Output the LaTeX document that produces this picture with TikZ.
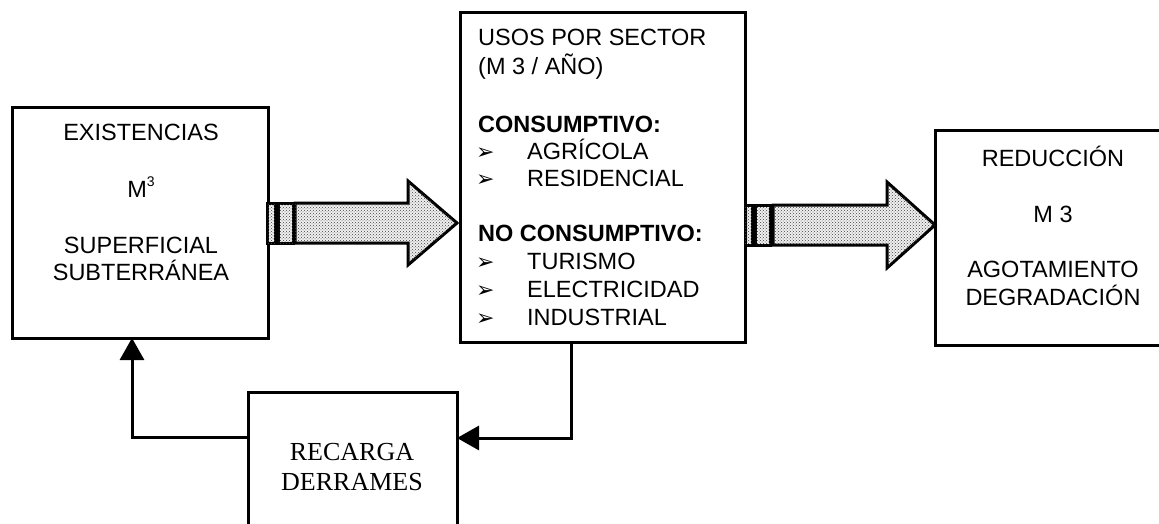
\documentclass[tikz,border=0pt]{standalone}
\usepackage{fontspec}
\setmainfont{Liberation Sans}
\newfontfamily\serifrm{Liberation Serif}
\newfontfamily\dvsans{DejaVu Sans}
\usetikzlibrary{arrows.meta,patterns}
\tikzset{
  box/.style={draw, line width=3pt, inner sep=0pt, outer sep=0pt},
  txt/.style={inner sep=0pt, font=\fontsize{23.5}{28}\selectfont},
  stxt/.style={inner sep=0pt, font=\fontsize{26}{30}\selectfont\serifrm},
  bul/.style={inner sep=0pt, font=\fontsize{22}{22}\selectfont\dvsans},
  conn/.style={line width=3pt, -{Triangle[length=22pt,width=24pt]}},
  blk/.style={draw, line width=3pt, line join=miter, fill=gray!12,
     postaction={pattern=crosshatch dots, pattern color=black!75}}
}
\begin{document}
\begin{tikzpicture}[x=1pt,y=-1pt]
\useasboundingbox (0,0) rectangle (1159,524);
\fill[white] (0,0) rectangle (1159,524);
% boxes
\node[box, minimum width=256pt, minimum height=230pt] (exist) at (140,223) {};
\node[box, minimum width=285pt, minimum height=329pt] (usos) at (602.5,177.5) {};
\node[box, minimum width=236pt, minimum height=214pt] (red) at (1053,238) {};
\node[box, minimum width=209pt, minimum height=168pt] (rec) at (352.5,476) {};
% block arrow 1
\path[blk] (267,203) rectangle (275,243);
\path[blk] (278,203) rectangle (293,243);
\path[blk] (295,203) -- (408,203) -- (408,181) -- (457,223) -- (408,265) -- (408,243) -- (295,243) -- cycle;
% block arrow 2
\path[blk] (745,205) rectangle (752,245);
\path[blk] (755,205) rectangle (770,245);
\path[blk] (773,205) -- (887,205) -- (887,182) -- (935,225) -- (887,268) -- (887,245) -- (773,245) -- cycle;
% connectors
\coordinate (k1) at (571,438);
\coordinate (k2) at (132,437);
\draw[conn] (usos.south -| k1) |- (rec.east |- k1);
\draw[conn] (rec.west |- k2) -| (exist.south -| k2);
% left box text
\node[txt, anchor=base] (e1) at (141,141) {EXISTENCIAS};
\node[txt, anchor=base] (e2) at (141,197) {M\raisebox{0.45em}{\fontsize{14}{14}\selectfont 3}};
\node[txt, anchor=base] (e3) at (141,253) {SUPERFICIAL};
\node[txt, anchor=base] (e4) at (141,280) {SUBTERRÁNEA};
% middle box text
\node[txt, anchor=base west] (u1) at (478,46) {USOS POR SECTOR};
\node[txt, anchor=base west] (u2) at (478,75) {(M 3 / AÑO)};
\node[txt, anchor=base west, font=\fontsize{23.5}{28}\selectfont\bfseries] (u3) at (478,133) {CONSUMPTIVO:};
\node[bul, anchor=base west] (b1) at (476,160) {➢};
\node[txt, anchor=base west] (u4) at (527,160) {AGRÍCOLA};
\node[bul, anchor=base west] (b2) at (476,186) {➢};
\node[txt, anchor=base west] (u5) at (527,186) {RESIDENCIAL};
\node[txt, anchor=base west, font=\fontsize{23.5}{28}\selectfont\bfseries] (u6) at (478,241) {NO CONSUMPTIVO:};
\node[bul, anchor=base west] (b3) at (476,269) {➢};
\node[txt, anchor=base west] (u7) at (527,269) {TURISMO};
\node[bul, anchor=base west] (b4) at (476,297) {➢};
\node[txt, anchor=base west] (u8) at (527,297) {ELECTRICIDAD};
\node[bul, anchor=base west] (b5) at (476,325) {➢};
\node[txt, anchor=base west] (u9) at (527,325) {INDUSTRIAL};
% right box text
\node[txt, anchor=base] (r1) at (1053,166) {REDUCCIÓN};
\node[txt, anchor=base] (r2) at (1053,222) {M 3};
\node[txt, anchor=base] (r3) at (1053,277) {AGOTAMIENTO};
\node[txt, anchor=base] (r4) at (1053,305) {DEGRADACIÓN};
% recarga text
\node[stxt, anchor=base] (c1) at (352,460) {RECARGA};
\node[stxt, anchor=base] (c2) at (352,490) {DERRAMES};
\end{tikzpicture}
\end{document}
